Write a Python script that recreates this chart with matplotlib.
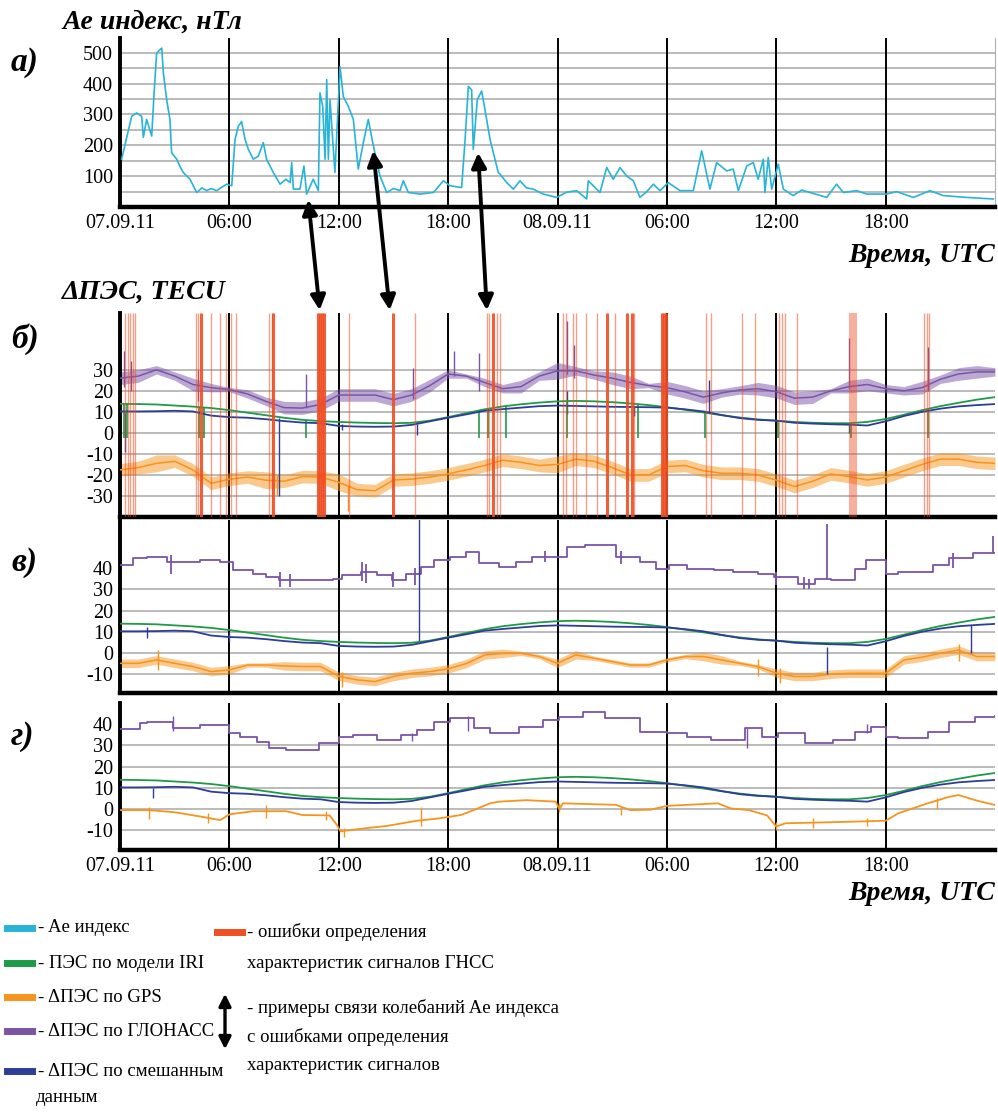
import numpy as np
import matplotlib.pyplot as plt
from matplotlib.lines import Line2D
from matplotlib.patches import FancyArrowPatch

plt.rcParams['font.family'] = ['Liberation Serif', 'DejaVu Serif']

W, H = 998, 1112

# цвета
c_ae = '#28b4d8'
c_iri = '#1f9a47'
c_gps = '#f7941d'
c_gl = '#7b54a8'
c_mix = '#2e3d98'
c_err = '#f04e23'

x_ticks = [0, 6, 12, 18, 24, 30, 36, 42]
x_labels = ['07.09.11', '06:00', '12:00', '18:00', '08.09.11', '06:00', '12:00', '18:00']

# ---- Ae индекс (часы, нТл)
ae_t = [0.09, 0.37, 0.64, 0.91, 1.19, 1.28, 1.46, 1.74, 1.87, 2.01, 2.19, 2.29, 2.38, 2.56,
        2.74, 2.83, 3.11, 3.30, 3.47, 3.84, 4.21, 4.50, 4.75, 5.00, 5.30, 5.85, 6.13, 6.31,
        6.49, 6.67, 6.86, 7.04, 7.31, 7.59, 7.86, 8.04, 8.41, 8.78, 9.10, 9.33, 9.42, 9.51,
        9.87, 10.09, 10.24, 10.60, 10.88, 10.97, 11.12, 11.25, 11.34, 11.43, 11.52, 11.79,
        12.07, 12.25, 12.52, 12.80, 13.07, 13.35, 13.62, 13.90, 14.26, 14.63, 15.00, 15.36,
        15.54, 15.82, 16.46, 17.19, 17.74, 18.10, 18.74, 18.92, 19.11, 19.29, 19.38, 19.60,
        19.84, 20.02, 20.30, 20.75, 20.84, 21.20, 21.58, 21.94, 22.30, 22.67, 23.22, 23.95,
        24.50, 25.05, 25.60, 25.69, 26.33, 26.70, 27.06, 27.43, 27.80, 28.16, 28.52, 28.90,
        29.26, 29.62, 30.08, 30.72, 31.45, 31.91, 32.36, 32.73, 33.28, 33.64, 33.92, 34.38,
        34.74, 35.01, 35.29, 35.38, 35.56, 35.75, 36.11, 36.39, 36.93, 37.40, 37.85, 38.77,
        39.31, 39.68, 40.41, 40.96, 42.06, 42.60, 43.52, 44.43, 45.16, 46.45, 47.91]
ae_v = [155, 226, 294, 305, 294, 226, 284, 230, 370, 499, 510, 515, 434, 348,
        284, 176, 155, 130, 112, 90, 47, 62, 53, 60, 53, 74, 69, 219,
        262, 277, 219, 187, 155, 165, 209, 155, 112, 74, 90, 79, 144, 58,
        58, 133, 42, 90, 53, 370, 327, 155, 413, 155, 348, 112,
        455, 358, 327, 284, 123, 209, 284, 198, 101, 47, 60, 53,
        85, 47, 42, 47, 85, 69, 63, 209, 391, 380, 187, 348,
        376, 316, 219, 112, 107, 80, 58, 85, 62, 58, 42, 31,
        48, 53, 26, 85, 47, 128, 90, 128, 100, 85, 31, 50,
        74, 53, 79, 53, 53, 182, 58, 144, 117, 123, 53, 133,
        144, 90, 155, 47, 160, 58, 139, 58, 37, 55, 47, 31,
        74, 47, 53, 42, 42, 50, 31, 53, 37, 31, 26]

# ---- общие кривые по часам
hours = np.arange(49)
iri = [13.8, 13.7, 13.5, 13.0, 12.5, 11.8, 10.8, 9.6, 8.4, 7.2, 6.2, 5.6, 5.2, 4.9, 4.7, 4.6,
       4.8, 5.8, 7.5, 9.4, 11.2, 12.6, 13.6, 14.4, 15.0, 15.2, 15.0, 14.6, 14.0, 13.2, 12.2,
       11.0, 9.7, 8.4, 7.3, 6.4, 5.8, 5.2, 4.8, 4.6, 4.6, 5.2, 6.6, 8.6, 10.8, 12.7, 14.3,
       15.8, 17.0]
mix = [10.2, 10.2, 10.3, 10.5, 10.2, 8.2, 7.5, 7.2, 6.5, 5.6, 4.9, 4.6, 3.3, 3.0, 2.9, 3.0,
       3.8, 5.5, 7.2, 8.8, 10.5, 11.3, 12.0, 12.7, 13.0, 12.8, 12.6, 12.4, 12.3, 12.2, 12.0,
       11.2, 10.2, 8.5, 7.0, 6.2, 5.8, 4.8, 4.4, 4.1, 3.9, 3.5, 5.5, 8.0, 10.0, 11.5, 12.6,
       13.2, 13.7]

# ---- панель б
gl_b = [26, 27, 30, 27, 23, 21.5, 20.6, 18.5, 15, 12, 11.8, 13.5, 18, 18, 18, 15.8, 18, 22.5,
        28, 27, 24, 21, 22, 27, 29.5, 29.5, 27.5, 26, 24, 22.5, 21.5, 19.5, 17, 19, 20.4, 21,
        19.6, 16.5, 17, 20, 22, 23, 21, 20, 21.5, 25.5, 28, 29, 29]
gl_b_w = [3, 3, 2, 2, 3, 2, 1, 2, 2, 3, 3, 3, 3, 3, 3, 3, 3, 3, 2, 1, 2, 2, 3, 2, 4, 2, 2, 3,
          3, 1, 3, 3, 3, 2, 2, 3, 3, 3, 3, 1, 3, 3, 2, 2, 3, 2, 3, 3, 2]
gps_b = [-17.6, -16.5, -14.5, -13.5, -17.6, -24, -22, -21, -22.5, -23, -20.8, -21, -23.5, -27,
         -27.5, -22.4, -22, -21, -19.5, -17.6, -15.5, -13, -14, -15.5, -15, -12.5, -13.5, -16.5,
         -20, -20, -16, -15.5, -18, -19.2, -19.2, -20, -22.5, -25.5, -23, -19.5, -20.8, -22.4,
         -21, -18, -15, -12.5, -12.5, -14, -14.5]
gps_b_w = [3, 3, 4, 3, 3, 3, 3, 3, 4, 3, 3, 3, 4, 3, 3, 3, 3, 3, 3, 3, 3, 3, 3, 3, 4, 3, 3,
           3, 3, 3, 3, 3, 3, 3, 3, 3, 3, 3, 3, 3, 3, 3, 3, 3, 3, 3, 3, 3, 3]
iri_drop_b = [0.2, 0.4, 4.35, 4.6, 10.2, 19.7, 20.2, 21.2, 24.5, 28.4, 32.1, 36.1, 40.1, 44.3]
mix_spk_b = [(0.3, -9, 10), (8.7, -30, 7), (12.2, 1.5, 4), (16.3, -1, 4), (24.5, 9, 20),
             (28.2, 8, 13), (32.3, 10, 25), (40.0, 0, 4)]
gl_spk_b = [(0.2, 22, 39), (0.6, 20, 34), (4.3, 15, 30), (10.2, 12, 28), (16.1, 16, 31),
            (18.3, 27, 39), (19.7, 20, 38), (24.5, 28, 53), (24.9, 26, 42), (40.0, 21, 45),
            (44.3, 20, 41)]
gps_spk_b = [(12.5, -37, -25), (8.6, -30, -20)]

# ошибки определения характеристик (часы)
err_thin = [0.27, 0.44, 0.55, 0.71, 0.82, 4.17, 4.28, 4.99, 5.49, 5.81, 6.09, 6.36, 8.17,
            8.34, 12.56, 16.18, 20.13, 20.24, 20.68, 20.84, 24.30, 24.47, 24.85, 25.01,
            25.56, 26.17, 27.15, 28.20, 32.14, 32.42, 34.12, 34.83, 36.15, 36.31, 36.48,
            37.14, 44.10, 44.27, 44.38]
err_thick = [4.44, 8.39, 10.86, 10.97, 11.08, 11.19, 14.98, 20.46, 26.71, 27.81, 28.09,
             29.73, 29.84, 29.95]
err_band = [(39.99, 40.43)]

# ---- панель в
gl_c_t = [0.0, 0.7, 1.5, 2.6, 4.4, 5.5, 6.2, 7.3, 8.0, 8.7, 11.7, 12.2, 13.2, 14.1, 14.9,
          15.7, 16.5, 17.2, 18.1, 19.0, 19.7, 20.8, 21.7, 22.6, 24.5, 25.5, 27.2, 28.5, 29.4,
          30.1, 31.1, 32.6, 33.6, 35.0, 35.9, 37.2, 38.1, 39.0, 40.3, 40.9, 42.0, 42.7, 44.6,
          45.5, 46.8, 48.0]
gl_c_v = [41.5, 44.6, 45.4, 43, 43.9, 43, 39, 37.4, 35.8, 34.3, 35, 36.6, 38.1, 36.6, 34.3,
          37.4, 40.6, 43.9, 45.4, 47.8, 42.3, 40.6, 43, 45.4, 50.1, 50.9, 45.4, 43, 39.8, 41.5,
          39.8, 39, 38.2, 37.4, 35.8, 32.7, 35, 34.3, 39.8, 43.9, 37.4, 38.2, 41.5, 44.6, 47,
          47]
gps_c = [-4.9, -4.9, -3.3, -4.9, -6.4, -8.8, -8, -5.7, -5.7, -6.1, -6.4, -6.4, -11, -12.7,
         -13.5, -11.1, -9.6, -8.8, -7.5, -5, -1, -0.2, -0.2, -1.7, -4.9, -0.9, -2.5, -4.1, -5.7,
         -5.7, -3.3, -1.7, -1.7, -3.3, -4.9, -6.5, -9.5, -11.1, -11.1, -10, -9.6, -9.6, -9.6,
         -3.3, -2, -0.2, 1.3, -1.7, -1.7]
gps_c_w = [2, 2, 2, 2, 2, 2, 2, 1, 1, 2, 2, 2, 2, 2, 2, 2, 2, 2, 2, 2, 2, 2, 1, 1, 2, 2, 1,
           1, 1, 1, 1, 1, 2, 2, 1, 1, 2, 2, 2, 2, 2, 2, 2, 2, 2, 2, 2, 2, 2]
mix_spk_c = [(16.4, 5, 63), (38.8, -10, 3), (46.7, 0, 13), (1.5, 7, 12), (6.0, 5, 10)]
gl_spk_c = [(38.8, 35, 61), (2.8, 37, 46), (8.8, 31, 38), (9.3, 31, 37), (13.3, 34, 43),
            (13.5, 33, 42), (15.0, 31, 38), (16.2, 32, 40), (23.3, 43, 48), (27.5, 42, 48),
            (36.0, 32, 38), (37.5, 30, 36), (37.8, 30, 35), (45.7, 40, 47), (47.9, 47, 55)]
gps_spk_c = [(2.1, -8, 1.5), (12.2, -16, -9), (35.0, -11, -3), (36.2, -14, -7), (46.0, -4, 4)]

# ---- панель г
gl_d_t = [0.0, 1.1, 1.5, 2.9, 4.4, 6.0, 6.6, 7.5, 8.2, 9.1, 10.9, 12.0, 12.8, 14.1, 15.4,
          16.3, 17.2, 18.1, 19.4, 20.3, 21.9, 23.2, 24.1, 25.4, 26.6, 28.5, 30.0, 31.1, 32.4,
          34.3, 35.2, 36.1, 37.6, 39.1, 40.3, 41.2, 42.0, 42.7, 44.3, 45.5, 46.9, 48.0]
gl_d_v = [37.6, 40.4, 41.2, 38, 39.6, 35.7, 34.1, 31.8, 28.6, 27.8, 31, 34.1, 34.9, 32.6,
          34.9, 37.2, 41.2, 42.8, 38, 35.7, 38.8, 41.9, 43.5, 45.8, 42.8, 36.5, 35.7, 34.1,
          32.6, 38, 34.1, 35.7, 31, 32.6, 36.5, 38.8, 34.1, 33.3, 36.5, 41.2, 43.5, 44]
gps_d_t = [0, 1.6, 3, 4.4, 5.5, 6.0, 7.3, 9.1, 10, 11.5, 11.9, 12.1, 13.5, 14.6, 16.3, 17.5,
           18.7, 19.4, 20.3, 20.8, 22.3, 23.9, 24.1, 24.3, 27.2, 28, 29.1, 30, 32.8, 33.5,
           34.5, 35.5, 36, 36.5, 40, 42, 42.7, 44.3, 45.5, 46, 47, 48]
gps_d_v = [-0.5, -0.5, -1.5, -3.5, -5.2, -2.5, -1, -1, -2.8, -3, -7.5, -10.5, -9, -8, -5.5,
           -4.4, -2.8, -0.5, 2.7, 3.5, 4.2, 3.5, 0, 2.7, 2, -0.5, -0.3, 1.5, 2.7, 0.3, -0.5,
           -3, -8.3, -6.7, -6, -5.5, -2, 2.7, 5.8, 6.6, 4, 1.9]
mix_spk_d = [(1.8, 5, 10)]
gl_spk_d = [(2.9, 37, 44), (16.0, 32, 36), (19.1, 37, 44), (34.4, 29, 38), (41.0, 36, 40)]
gps_spk_d = [(1.6, -4.5, 1), (4.8, -6.5, -2), (8.0, -4, 2), (11.3, -5, -1), (12.3, -13, -9),
             (16.5, -8, 1), (24.1, -1.5, 3), (27.5, -3, 1), (36.0, -10, -6), (38.0, -9, -4),
             (41.0, -8, -4), (44.8, 0, 5)]

fig = plt.figure(figsize=(W / 100, H / 100), dpi=100)


def px_ax(top, bottom):
    return [120 / W, 1 - bottom / H, 875 / W, (bottom - top) / H]


def style_axes(ax, ylim, yt, grid, show_x):
    ax.set_xlim(0, 48)
    ax.set_ylim(*ylim)
    for g in grid:
        ax.axhline(g, color='#a8a8a8', lw=1.1, zorder=0)
    for h in x_ticks[1:]:
        ax.axvline(h, color='black', lw=1.4, zorder=1)
    ax.set_yticks(yt)
    ax.set_yticklabels([str(v) for v in yt], fontsize=14.5)
    if show_x:
        ax.set_xticks(x_ticks)
        ax.set_xticklabels(x_labels, fontsize=14.5)
    else:
        ax.set_xticks([])
    ax.tick_params(length=0, pad=5)
    ax.spines['top'].set_visible(False)
    ax.spines['right'].set_visible(False)
    ax.spines['left'].set_linewidth(2.8)
    ax.spines['bottom'].set_linewidth(3.2)


def spikes(ax, spk, color, lw=1.0):
    for t, lo, hi in spk:
        ax.vlines(t, lo, hi, color=color, lw=lw, zorder=3)


def noisy(ax, v, w, color):
    v = np.array(v)
    w = np.array(w)
    ax.fill_between(hours, v - w, v + w, color=color, alpha=0.5, lw=0, zorder=2)
    ax.plot(hours, v, color=color, lw=1.1, zorder=3)


# а)
ax_a = fig.add_axes(px_ax(38, 207))
style_axes(ax_a, (0, 548), [100, 200, 300, 400, 500], range(50, 501, 50), True)
ax_a.spines['right'].set_visible(True)
ax_a.spines['right'].set_color('#b0b0b0')
ax_a.plot(ae_t, ae_v, color=c_ae, lw=1.2, zorder=3)

# б)
ax_b = fig.add_axes(px_ax(313, 517))
style_axes(ax_b, (-40, 57), [-30, -20, -10, 0, 10, 20, 30], range(-30, 31, 10), False)
noisy(ax_b, gps_b, gps_b_w, c_gps)
noisy(ax_b, gl_b, gl_b_w, c_gl)
ax_b.plot(hours, iri, color=c_iri, lw=1.3, zorder=4)
ax_b.vlines(iri_drop_b, -2.5, np.interp(iri_drop_b, hours, iri), color=c_iri, lw=1.2, zorder=4)
ax_b.plot(hours, mix, color=c_mix, lw=1.3, zorder=4)
spikes(ax_b, mix_spk_b, c_mix)
spikes(ax_b, gl_spk_b, c_gl)
spikes(ax_b, gps_spk_b, c_gps)
ax_b.vlines(err_thin, -40, 57, color=c_err, lw=1.0, alpha=0.55, zorder=5)
ax_b.vlines(err_thick, -40, 57, color=c_err, lw=2.2, alpha=0.9, zorder=5)
for a, b in err_band:
    ax_b.axvspan(a, b, color=c_err, alpha=0.45, lw=0, zorder=5)

# в)
ax_c = fig.add_axes(px_ax(520, 693))
style_axes(ax_c, (-18.9, 62.7), [-10, 0, 10, 20, 30, 40], range(-10, 31, 10), False)
noisy(ax_c, gps_c, gps_c_w, c_gps)
spikes(ax_c, gps_spk_c, c_gps)
ax_c.step(gl_c_t, gl_c_v, where='post', color=c_gl, lw=1.3, zorder=3)
spikes(ax_c, gl_spk_c, c_gl, 1.3)
ax_c.plot(hours, iri, color=c_iri, lw=1.3, zorder=4)
ax_c.plot(hours, mix, color=c_mix, lw=1.3, zorder=4)
spikes(ax_c, mix_spk_c, c_mix)

# г)
ax_d = fig.add_axes(px_ax(703, 850))
style_axes(ax_d, (-19.3, 50), [-10, 0, 10, 20, 30, 40], range(-10, 31, 10), True)
ax_d.plot(gps_d_t, gps_d_v, color=c_gps, lw=1.3, zorder=3)
spikes(ax_d, gps_spk_d, c_gps)
ax_d.step(gl_d_t, gl_d_v, where='post', color=c_gl, lw=1.3, zorder=3)
spikes(ax_d, gl_spk_d, c_gl)
ax_d.plot(hours, iri, color=c_iri, lw=1.3, zorder=4)
ax_d.plot(hours, mix, color=c_mix, lw=1.3, zorder=4)
spikes(ax_d, mix_spk_d, c_mix)


def fx(x):
    return x / W


def fy(y):
    return 1 - y / H


bi = dict(fontweight='bold', fontstyle='italic')
fig.text(fx(62), fy(22), 'Ae индекс, нТл', fontsize=20, va='center', **bi)
fig.text(fx(62), fy(292), 'ΔПЭС, TECU', fontsize=20, va='center', **bi)
fig.text(fx(995), fy(255), 'Время, UTC', fontsize=20, va='center', ha='right', **bi)
fig.text(fx(995), fy(893), 'Время, UTC', fontsize=20, va='center', ha='right', **bi)
for lbl, y in [('а)', 62), ('б)', 339), ('в)', 563), ('г)', 737)]:
    fig.text(fx(11), fy(y), lbl, fontsize=24, va='center', **bi)

# стрелки связи Ae и ошибок
for (x1, y1), (x2, y2) in [((308, 197), (320, 313)), ((373, 148), (390, 313)),
                           ((478, 150), (487, 313))]:
    fig.add_artist(FancyArrowPatch((fx(x1), fy(y1)), (fx(x2), fy(y2)),
                                   transform=fig.transFigure, arrowstyle='<|-|>',
                                   mutation_scale=22, lw=2.8, color='black'))

# легенда
leg_font = 13.5
for col, y, txt in [(c_ae, 928, '- Ae индекс'), (c_iri, 963, '- ПЭС по модели IRI'),
                    (c_gps, 997, '- ΔПЭС по GPS'), (c_gl, 1031, '- ΔПЭС по ГЛОНАСС'),
                    (c_mix, 1071, '- ΔПЭС по смешанным')]:
    fig.add_artist(Line2D([fx(7), fx(32)], [fy(y), fy(y)], color=col, lw=5,
                          transform=fig.transFigure))
    fig.text(fx(38), fy(y), txt, fontsize=leg_font, va='center')
fig.text(fx(36), fy(1098), 'данным', fontsize=leg_font, va='center')

fig.add_artist(Line2D([fx(217), fx(242)], [fy(932), fy(932)], color=c_err, lw=5,
                      transform=fig.transFigure))
fig.text(fx(247), fy(932), '- ошибки определения', fontsize=leg_font, va='center')
fig.text(fx(247), fy(963), 'характеристик сигналов ГНСС', fontsize=leg_font, va='center')
fig.add_artist(FancyArrowPatch((fx(225), fy(991)), (fx(225), fy(1052)),
                               transform=fig.transFigure, arrowstyle='<|-|>',
                               mutation_scale=18, lw=2.4, color='black'))
fig.text(fx(247), fy(1008), '- примеры связи колебаний Ae индекса', fontsize=leg_font, va='center')
fig.text(fx(247), fy(1037), 'с ошибками определения', fontsize=leg_font, va='center')
fig.text(fx(247), fy(1066), 'характеристик сигналов', fontsize=leg_font, va='center')

plt.savefig('out.png', dpi=100)
